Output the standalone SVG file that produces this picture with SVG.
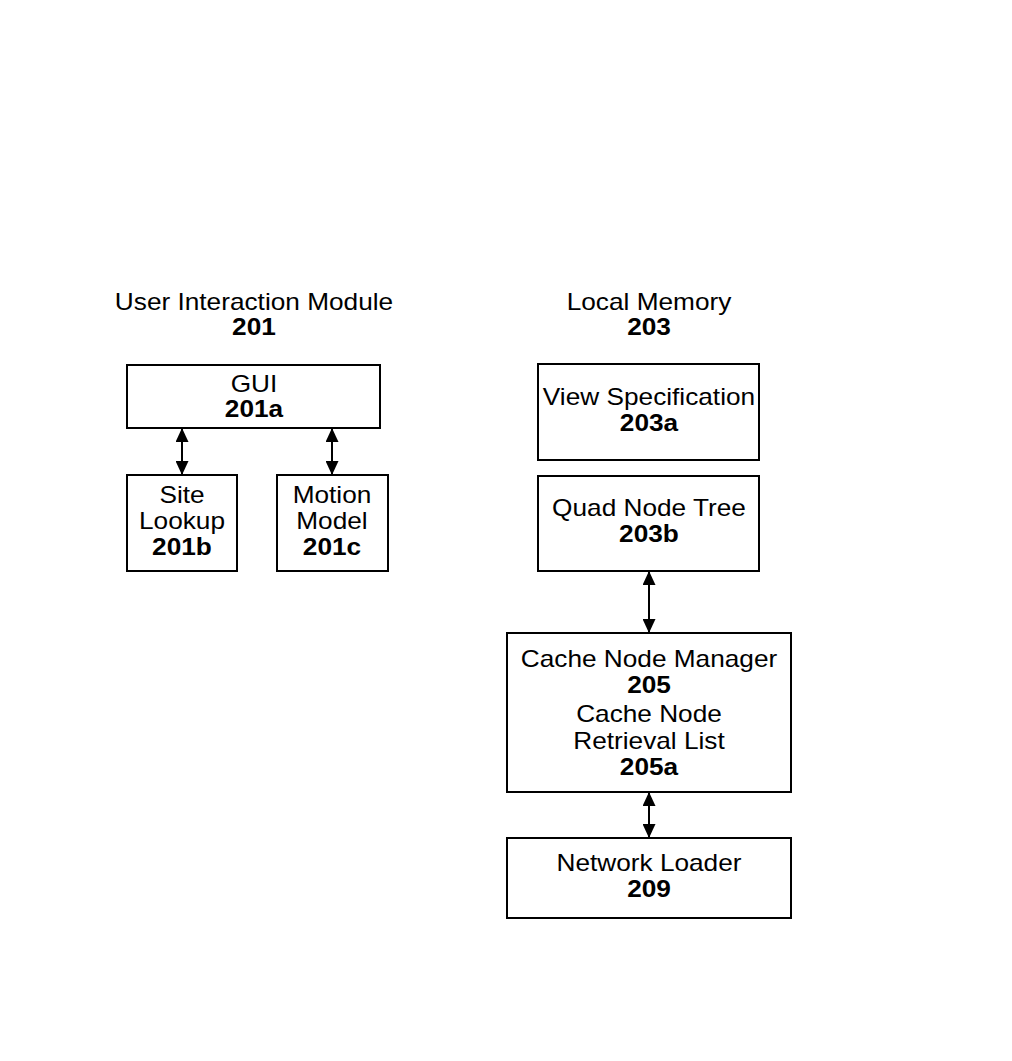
<svg xmlns="http://www.w3.org/2000/svg" width="1012" height="1061" viewBox="0 0 1012 1061">
<style>
.box{fill:#fff;stroke:#000;stroke-width:2}
.t{font-family:"Liberation Sans",Arial,sans-serif;font-size:23px;text-anchor:middle;fill:#000}
.b{font-weight:bold}
.c{stroke:#000;stroke-width:2;fill:none;marker-start:url(#ah);marker-end:url(#ah)}
</style>
<defs>
<marker id="ah" viewBox="0 0 14 13" refX="13" refY="6.5" markerWidth="14" markerHeight="13" markerUnits="userSpaceOnUse" orient="auto-start-reverse">
<path d="M0,0 L14,6.5 L0,13 Z" fill="#000"/>
</marker>
</defs>
<rect width="1012" height="1061" fill="#fff"/>
<g id="title201">
<g transform="matrix(1.14 0 0 1 -35.56 0)">
<text class="t" x="254" y="310">User Interaction Module</text>
<text class="t b" x="254" y="335">201</text>
</g>
</g>
<g id="title203">
<g transform="matrix(1.14 0 0 1 -90.86 0)">
<text class="t" x="649" y="310">Local Memory</text>
<text class="t b" x="649" y="335">203</text>
</g>
</g>
<g id="n201a">
<rect class="box" x="127" y="365" width="253" height="63"/>
<g transform="matrix(1.14 0 0 1 -35.56 0)">
<text class="t" x="254" y="392">GUI</text>
<text class="t b" x="254" y="417">201a</text>
</g>
</g>
<g id="n201b">
<rect class="box" x="127" y="475" width="110" height="96"/>
<g transform="matrix(1.14 0 0 1 -25.48 0)">
<text class="t" x="182" y="503">Site</text>
<text class="t" x="182" y="529">Lookup</text>
<text class="t b" x="182" y="555">201b</text>
</g>
</g>
<g id="n201c">
<rect class="box" x="277" y="475" width="111" height="96"/>
<g transform="matrix(1.14 0 0 1 -46.48 0)">
<text class="t" x="332" y="503">Motion</text>
<text class="t" x="332" y="529">Model</text>
<text class="t b" x="332" y="555">201c</text>
</g>
</g>
<g id="n203a">
<rect class="box" x="538" y="364" width="221" height="96"/>
<g transform="matrix(1.14 0 0 1 -90.86 0)">
<text class="t" x="649" y="405">View Specification</text>
<text class="t b" x="649" y="431">203a</text>
</g>
</g>
<g id="n203b">
<rect class="box" x="538" y="476" width="221" height="95"/>
<g transform="matrix(1.14 0 0 1 -90.86 0)">
<text class="t" x="649" y="516">Quad Node Tree</text>
<text class="t b" x="649" y="542">203b</text>
</g>
</g>
<g id="n205">
<rect class="box" x="507" y="633" width="284" height="159"/>
<g transform="matrix(1.14 0 0 1 -90.86 0)">
<text class="t" x="649" y="667">Cache Node Manager</text>
<text class="t b" x="649" y="693">205</text>
<text class="t" x="649" y="722">Cache Node</text>
<text class="t" x="649" y="749">Retrieval List</text>
<text class="t b" x="649" y="775">205a</text>
</g>
</g>
<g id="n209">
<rect class="box" x="507" y="838" width="284" height="80"/>
<g transform="matrix(1.14 0 0 1 -90.86 0)">
<text class="t" x="649" y="871">Network Loader</text>
<text class="t b" x="649" y="897">209</text>
</g>
</g>
<g id="connectors">
<line class="c" x1="182" y1="429" x2="182" y2="474"/>
<line class="c" x1="332" y1="429" x2="332" y2="474"/>
<line class="c" x1="649" y1="572" x2="649" y2="632"/>
<line class="c" x1="649" y1="793" x2="649" y2="837"/>
</g>
</svg>
